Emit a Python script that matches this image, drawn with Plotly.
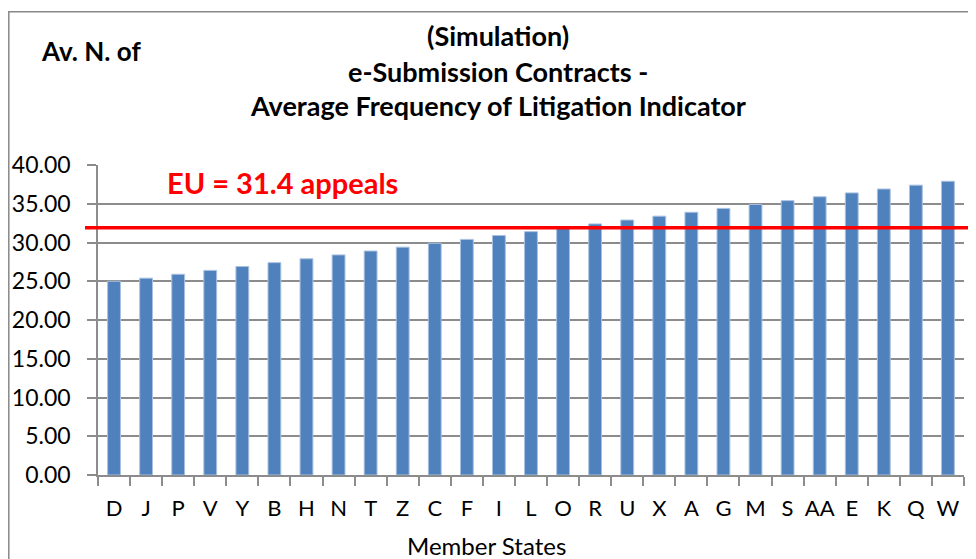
import plotly.graph_objects as go

categories = ["D", "J", "P", "V", "Y", "B", "H", "N", "T", "Z", "C", "F", "I", "L",
              "O", "R", "U", "X", "A", "G", "M", "S", "AA", "E", "K", "Q", "W"]
values = [25.0, 25.4, 25.9, 26.4, 26.9, 27.4, 27.9, 28.4, 28.9, 29.4, 29.9, 30.4, 30.9, 31.4,
          31.9, 32.4, 32.9, 33.4, 33.9, 34.4, 34.9, 35.4, 35.9, 36.4, 36.9, 37.4, 37.9]
eu_line = 31.9
eu_label = "EU = 31.4 appeals"
y_ticks = [0, 5, 10, 15, 20, 25, 30, 35, 40]

FONT = "Lato"
GRID = "#8c8c8c"

fig = go.Figure()
fig.add_trace(go.Bar(
    x=categories, y=values,
    marker=dict(color="#4F81BD", line=dict(color="#a9c1e0", width=1)),
    width=0.4,
))

fig.update_layout(
    width=968, height=551, autosize=False,
    margin=dict(l=90, r=12, t=157, b=84, autoexpand=False),
    plot_bgcolor="white", paper_bgcolor="white",
    showlegend=False,
    font=dict(family=FONT, color="black"),
    xaxis=dict(
        type="category", showgrid=False, automargin=False,
        showline=True, linecolor=GRID, linewidth=1.5,
        ticks="outside", tickson="boundaries", ticklen=9, tickcolor=GRID, tickwidth=1.5,
        tickfont=dict(size=22, family=FONT), ticklabelstandoff=13, tickangle=0,
    ),
    yaxis=dict(
        range=[0, 40], tickvals=y_ticks, tickformat=".2f", automargin=False,
        showgrid=True, gridcolor=GRID, gridwidth=1.5,
        showline=True, linecolor=GRID, linewidth=1.5,
        ticks="outside", ticklen=9, tickcolor=GRID, tickwidth=1.5,
        tickfont=dict(size=23, family=FONT), zeroline=False, ticklabelstandoff=12,
    ),
)

# EU reference line
fig.add_shape(type="line", xref="paper", yref="y",
              x0=-0.015, x1=1.02, y0=eu_line, y1=eu_line,
              line=dict(color="#ff0000", width=3.5), layer="above")

# outer chart border (partially cropped)
fig.add_shape(type="rect", xref="paper", yref="paper",
              x0=-0.103, x1=1.1, y0=-0.4, y1=1.494,
              line=dict(color="#888888", width=1.5), layer="below")

ann = [
    dict(text="<b>" + eu_label + "</b>", x=0.077, y=0.945, xanchor="left", yanchor="middle",
         font=dict(size=29, color="#ff0000", family=FONT)),
    dict(text="<b>Av. N. of</b>", x=-0.068, y=1.367, xanchor="left", yanchor="middle",
         font=dict(size=26, family=FONT)),
    dict(text="<b>(Simulation)</b>", x=0.462, y=1.418, xanchor="center", yanchor="middle",
         font=dict(size=27, family=FONT)),
    dict(text="<b>e-Submission Contracts -</b>", x=0.462, y=1.302, xanchor="center", yanchor="middle",
         font=dict(size=27, family=FONT)),
    dict(text="<b>Average Frequency of Litigation Indicator</b>", x=0.462, y=1.191,
         xanchor="center", yanchor="middle", font=dict(size=27, family=FONT)),
    dict(text="Member States", x=0.449, y=-0.228, xanchor="center", yanchor="middle",
         font=dict(size=24, family=FONT)),
]
for a in ann:
    fig.add_annotation(xref="paper", yref="paper", showarrow=False, **a)

fig.write_html("out.html")
